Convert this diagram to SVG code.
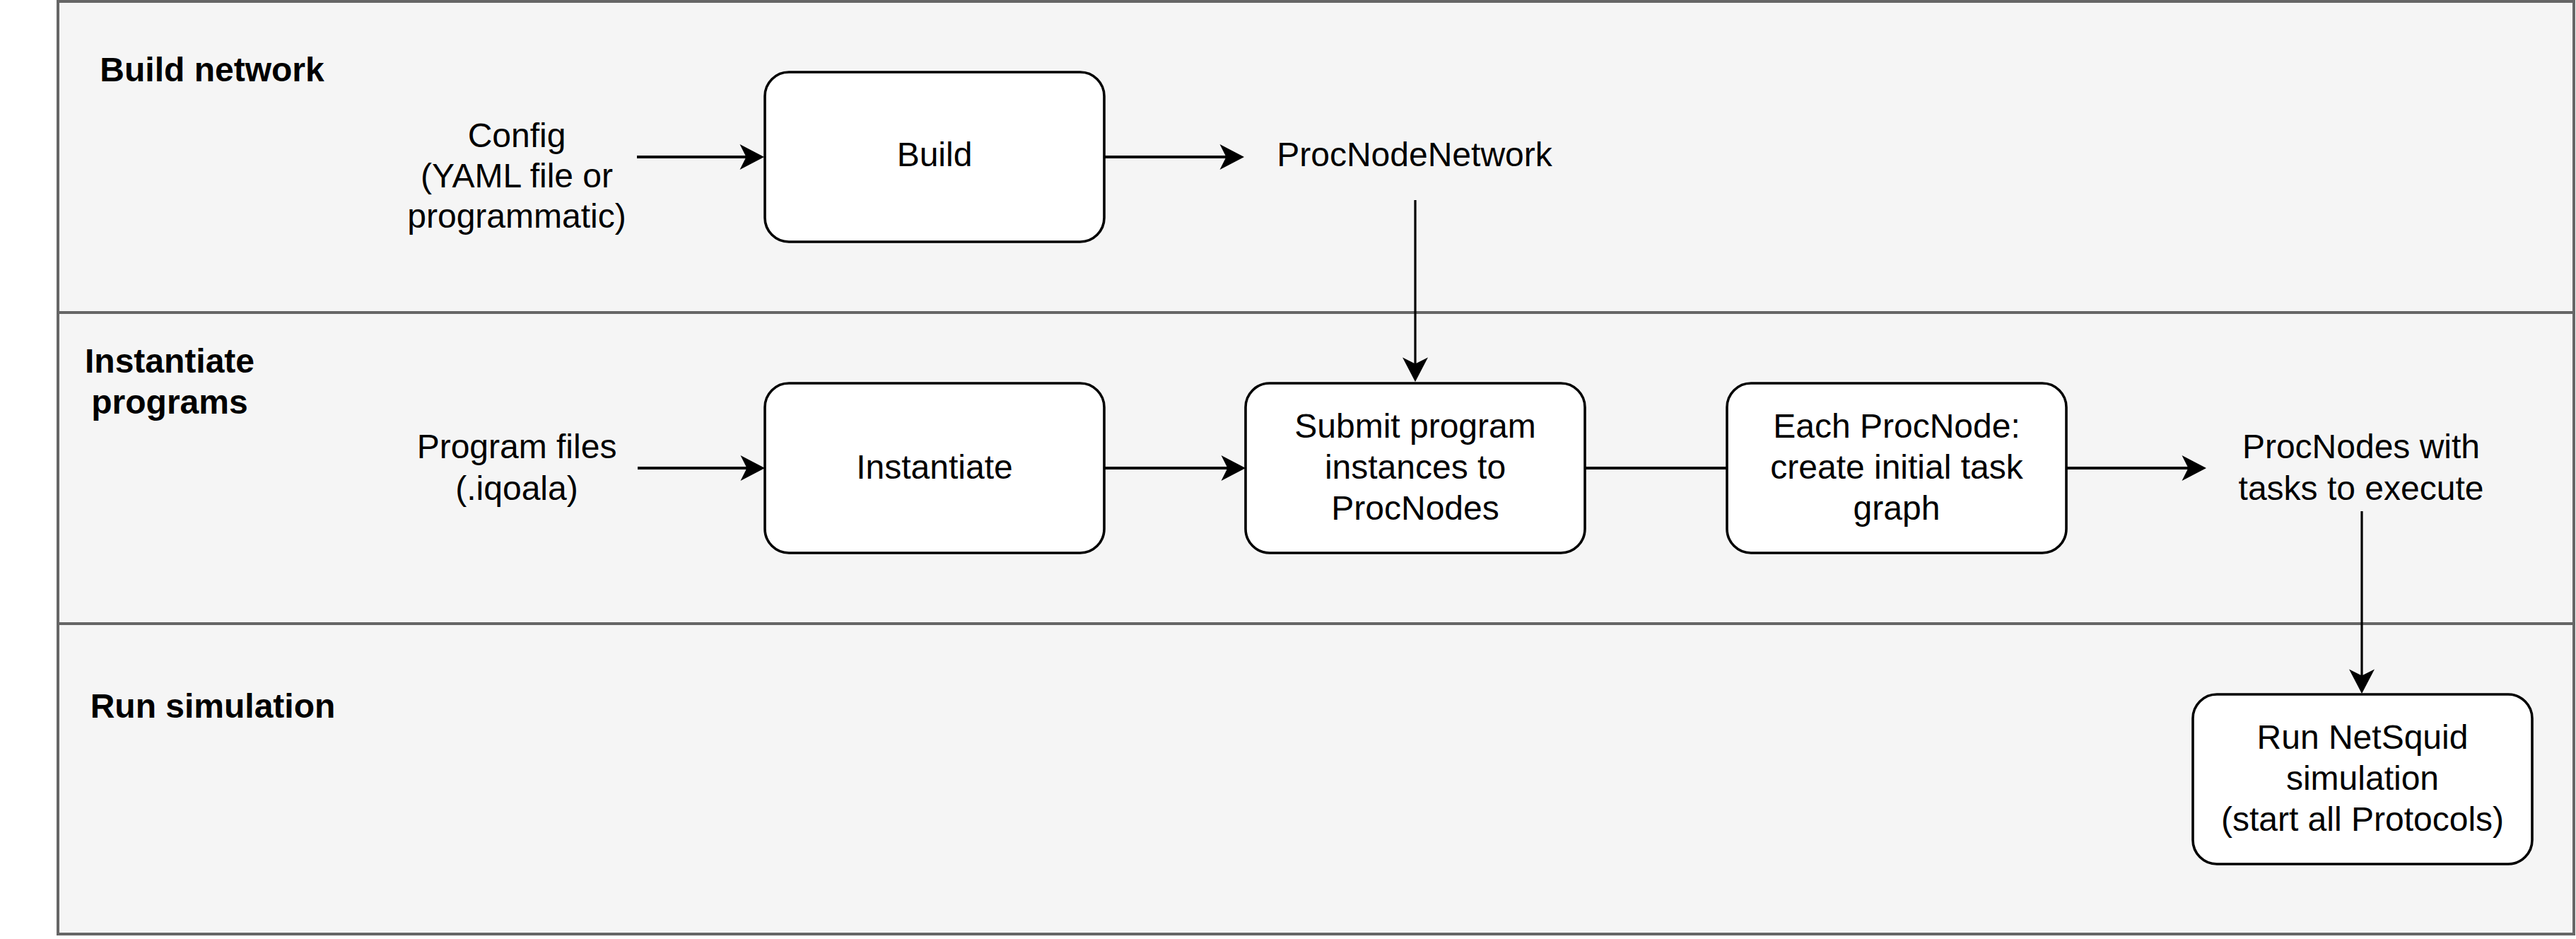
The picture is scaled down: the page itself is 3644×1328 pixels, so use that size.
<svg xmlns="http://www.w3.org/2000/svg" width="3644" height="1328" viewBox="0 0 3644 1328">
<style>
.lane{fill:#f5f5f5;stroke:#666666;stroke-width:4}
.box{fill:#ffffff;stroke:#000000;stroke-width:3.6}
.t{font-family:"Liberation Sans",Arial,sans-serif;font-size:48px;fill:#000000;text-anchor:middle}
.lbl{font-family:"Liberation Sans",Arial,sans-serif;font-size:48px;font-weight:bold;fill:#000000;text-anchor:middle}
.eh{fill:none;stroke:#000000;stroke-width:4.2}
.ev{fill:none;stroke:#000000;stroke-width:3.2}
</style>
<defs>
<marker id="arr" markerUnits="userSpaceOnUse" viewBox="-12 -20 40 40" markerWidth="40" markerHeight="40" refX="0" refY="0" orient="auto">
<path d="M25,0 L-9.5,-18 L-0.5,0 L-9.5,18 Z" fill="#000000"/>
</marker>
</defs>
<rect width="3644" height="1328" fill="#ffffff"/>
<g id="lane-build">
<rect class="lane" x="82" y="2" width="3559" height="440"/>
<text class="lbl" x="300" y="115">Build network</text>
</g>
<g id="lane-instantiate">
<rect class="lane" x="82" y="442" width="3559" height="440"/>
<text class="lbl" x="240" y="527">Instantiate</text>
<text class="lbl" x="240" y="585">programs</text>
</g>
<g id="lane-run">
<rect class="lane" x="82" y="882" width="3559" height="439"/>
<text class="lbl" x="301" y="1015">Run simulation</text>
</g>
<g id="config">
<text class="t" x="731" y="208">Config</text>
<text class="t" x="731" y="265">(YAML file or</text>
<text class="t" x="731" y="322">programmatic)</text>
</g>
<g id="build">
<rect class="box" x="1082" y="102" width="480" height="240" rx="34" ry="34"/>
<text class="t" x="1322" y="235">Build</text>
</g>
<g id="procnodenetwork">
<text class="t" x="2001" y="235">ProcNodeNetwork</text>
</g>
<g id="programfiles">
<text class="t" x="731" y="648">Program files</text>
<text class="t" x="731" y="707">(.iqoala)</text>
</g>
<g id="instantiate">
<rect class="box" x="1082" y="542" width="480" height="240" rx="34" ry="34"/>
<text class="t" x="1322" y="677">Instantiate</text>
</g>
<g id="submit">
<rect class="box" x="1762" y="542" width="480" height="240" rx="34" ry="34"/>
<text class="t" x="2002" y="619">Submit program</text>
<text class="t" x="2002" y="677">instances to</text>
<text class="t" x="2002" y="735">ProcNodes</text>
</g>
<g id="eachprocnode">
<rect class="box" x="2443" y="542" width="480" height="240" rx="34" ry="34"/>
<text class="t" x="2683" y="619">Each ProcNode:</text>
<text class="t" x="2683" y="677">create initial task</text>
<text class="t" x="2683" y="735">graph</text>
</g>
<g id="procnodestasks">
<text class="t" x="3340" y="648">ProcNodes with</text>
<text class="t" x="3340" y="707">tasks to execute</text>
</g>
<g id="runnetsquid">
<rect class="box" x="3102" y="982" width="480" height="240" rx="34" ry="34"/>
<text class="t" x="3342" y="1059">Run NetSquid</text>
<text class="t" x="3342" y="1117">simulation</text>
<text class="t" x="3342" y="1175">(start all Protocols)</text>
</g>
<g id="connectors">
<path class="eh" d="M901,222 L1056,222" marker-end="url(#arr)"/>
<path class="eh" d="M1562,222 L1735,222" marker-end="url(#arr)"/>
<path class="ev" d="M2002,283 L2002,515" marker-end="url(#arr)"/>
<path class="eh" d="M902,662 L1057,662" marker-end="url(#arr)"/>
<path class="eh" d="M1562,662 L1737,662" marker-end="url(#arr)"/>
<path class="eh" d="M2242,662 L2443,662"/>
<path class="eh" d="M2923,662 L3096,662" marker-end="url(#arr)"/>
<path class="ev" d="M3341,723 L3341,956" marker-end="url(#arr)"/>
</g>
</svg>
